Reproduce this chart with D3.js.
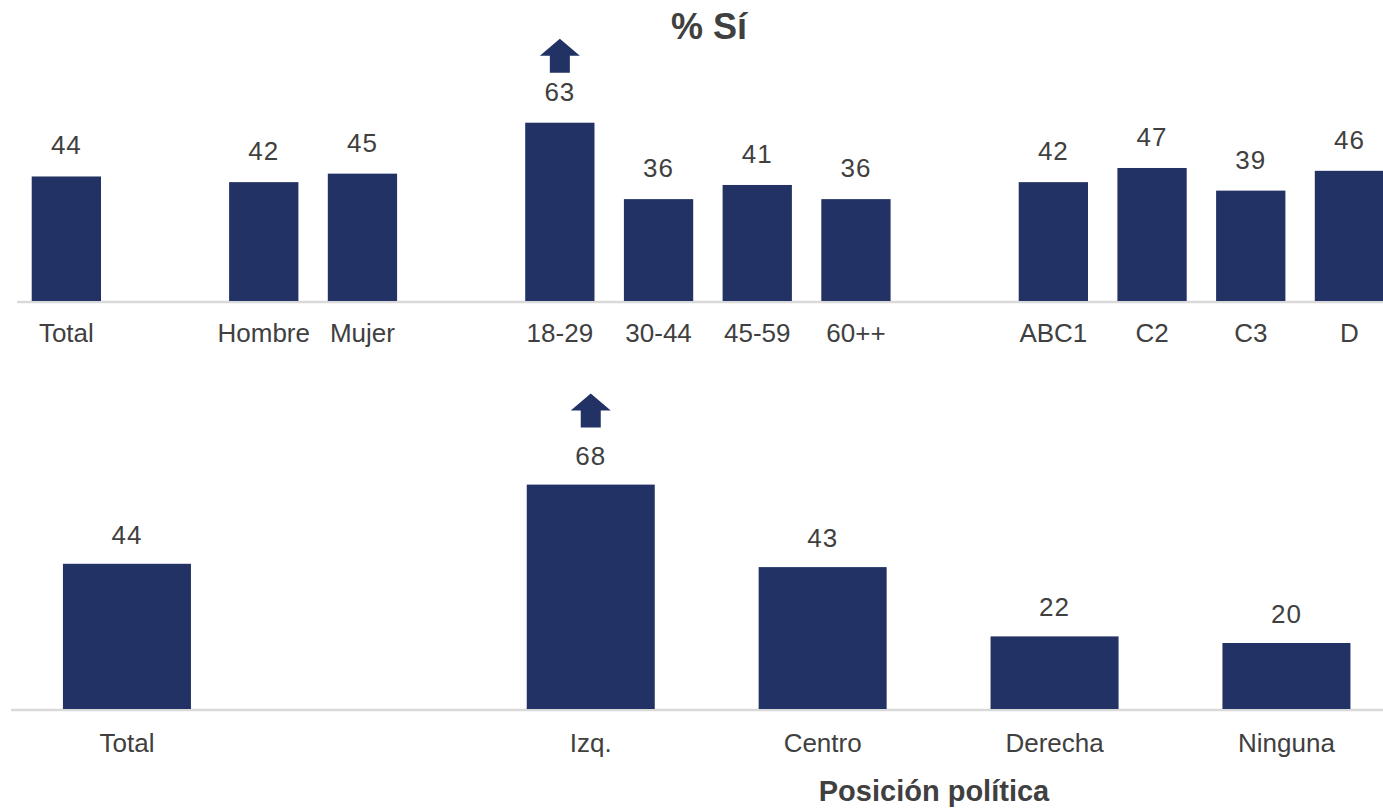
<!DOCTYPE html>
<html><head><meta charset="utf-8">
<script src="https://cdn.jsdelivr.net/npm/d3@7/dist/d3.min.js"></script>
<style>
html,body{margin:0;padding:0;background:#fff;}
svg{display:block;font-family:"Liberation Sans",Arial,sans-serif;}
</style></head>
<body>
<svg id="chart" width="1383" height="809"></svg>
<script>
// ---- data ----
const topCategories = ["Total", "", "Hombre", "Mujer", " ", "18-29", "30-44", "45-59", "60++", "  ", "ABC1", "C2", "C3", "D"];
const topValues     = [44, null, 42, 45, null, 63, 36, 41, 36, null, 42, 47, 39, 46];
const topArrows     = ["18-29"];

const bottomCategories = ["Total", "", "Izq.", "Centro", "Derecha", "Ninguna"];
const bottomValues     = [44, null, 68, 43, 22, 20];
const bottomArrows     = ["Izq."];

const title = "% Sí";
const bottomAxisTitle = "Posición política";

// ---- style ----
const barColor = "#233264";
const textColor = "#404040";
const axisColor = "#d9d9d9";

const svg = d3.select("#chart");

function panel(cfg) {
  const x = d3.scaleBand().domain(cfg.categories)
    .range(cfg.xRange).paddingInner(cfg.pad).paddingOuter(cfg.pad / 2);
  const y = d3.scaleLinear().domain([0, 100]).range([cfg.base, cfg.base - cfg.pxPerUnit * 100]);
  const g = svg.append("g");
  const data = cfg.categories.map((c, i) => ({c, v: cfg.values[i]})).filter(d => d.v != null);

  // axis line
  g.append("line")
    .attr("x1", cfg.xRange[0]).attr("x2", 1383)
    .attr("y1", y(0) + 1).attr("y2", y(0) + 1)
    .attr("stroke", axisColor).attr("stroke-width", 2.5);

  g.selectAll("rect.bar").data(data).join("rect")
    .attr("class", "bar")
    .attr("x", d => x(d.c)).attr("width", x.bandwidth())
    .attr("y", d => y(d.v)).attr("height", d => y(0) - y(d.v))
    .attr("fill", barColor);

  g.selectAll("text.val").data(data).join("text")
    .attr("class", "val")
    .attr("x", d => x(d.c) + x.bandwidth() / 2)
    .attr("y", d => y(d.v) - cfg.valGap)
    .attr("text-anchor", "middle")
    .attr("font-size", cfg.valSize).attr("letter-spacing", cfg.valSpacing)
    .attr("fill", textColor)
    .text(d => d.v);

  g.selectAll("text.cat").data(data).join("text")
    .attr("class", "cat")
    .attr("x", d => x(d.c) + x.bandwidth() / 2)
    .attr("y", y(0) + cfg.catGap)
    .attr("text-anchor", "middle")
    .attr("font-size", cfg.catSize)
    .attr("fill", textColor)
    .text(d => d.c);

  // up arrows
  const arrowData = data.filter(d => cfg.arrows.includes(d.c));
  g.selectAll("path.arrow").data(arrowData).join("path")
    .attr("class", "arrow")
    .attr("fill", barColor)
    .attr("d", d => {
      const cx = x(d.c) + x.bandwidth() / 2;
      const b = y(d.v) - cfg.valGap - cfg.arrowGap; // stem bottom
      const hw = 20, sw = 10, stem = 17, head = 17;
      return `M${cx - sw},${b} L${cx - sw},${b - stem} L${cx - hw},${b - stem} L${cx},${b - stem - head} L${cx + hw},${b - stem} L${cx + sw},${b - stem} L${cx + sw},${b} Z`;
    });
  return {x, y};
}

panel({
  categories: topCategories, values: topValues, arrows: topArrows,
  xRange: [17, 1398.8], pad: 0.298, base: 301, pxPerUnit: 2.83,
  valGap: 22, valSize: 26, valSpacing: 1, catGap: 40.5, catSize: 26, arrowGap: 28
});

panel({
  categories: bottomCategories, values: bottomValues, arrows: bottomArrows,
  xRange: [11, 1402.4], pad: 0.448, base: 709, pxPerUnit: 3.3,
  valGap: 20, valSize: 26, valSpacing: 1, catGap: 43, catSize: 26, arrowGap: 37
});

svg.append("text")
  .attr("x", 709).attr("y", 39)
  .attr("text-anchor", "middle")
  .attr("font-size", 36).attr("font-weight", "bold")
  .attr("fill", textColor)
  .text(title);

svg.append("text")
  .attr("x", 934).attr("y", 801)
  .attr("text-anchor", "middle")
  .attr("font-size", 29).attr("font-weight", "bold")
  .attr("fill", textColor)
  .text(bottomAxisTitle);
</script>
</body></html>
